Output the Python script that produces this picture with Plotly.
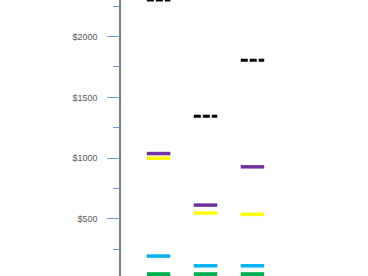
import plotly.graph_objects as go

# Three groups, each with five level markers (short horizontal bars)
groups = [0, 1, 2]
top_level = [2300, 1345, 1805]      # black dashed
purple_level = [1038, 614, 929]
yellow_level = [1000, 549, 538]
cyan_level = [195, 115, 115]
green_level = [46, 46, 46]

half_width = 0.25

def segments(values):
    xs, ys = [], []
    for g, v in zip(groups, values):
        xs += [g - half_width, g + half_width, None]
        ys += [v, v, None]
    return xs, ys

series = [
    (green_level, "#00B050", 4, "solid"),
    (cyan_level, "#00B0F0", 3.5, "solid"),
    (yellow_level, "#FFFF00", 3.5, "solid"),
    (purple_level, "#7030A0", 3.5, "solid"),
    (top_level, "#000000", 3, "7px,2px"),
]

fig = go.Figure()
for values, color, width, dash in series:
    xs, ys = segments(values)
    fig.add_trace(go.Scatter(
        x=xs, y=ys, mode="lines",
        line=dict(color=color, width=width, dash=dash),
        hoverinfo="skip", showlegend=False,
    ))

fig.update_layout(
    width=368, height=276,
    margin=dict(l=121, r=0, t=0, b=0),
    paper_bgcolor="white", plot_bgcolor="white",
    showlegend=False,
)
fig.update_xaxes(
    range=[-0.80, 4.46], showgrid=False, zeroline=False,
    showticklabels=False, ticks="", showline=False,
)
fig.update_yaxes(
    range=[31, 2301], showgrid=False, zeroline=False,
    showline=True, linecolor="#808080", linewidth=1.5,
    dtick=500, tick0=0, tickprefix="$", tickformat="d",
    ticks="outside", ticklen=12, tickcolor="#6A9BD8", tickwidth=1,
    ticklabelstandoff=8,
    tickfont=dict(family="Liberation Sans, Arial, sans-serif", size=9, color="#595959"),
    minor=dict(dtick=250, tick0=0, ticks="outside", ticklen=6,
               tickcolor="#6A9BD8", tickwidth=1, showgrid=False),
)

fig.write_html("out.html")
